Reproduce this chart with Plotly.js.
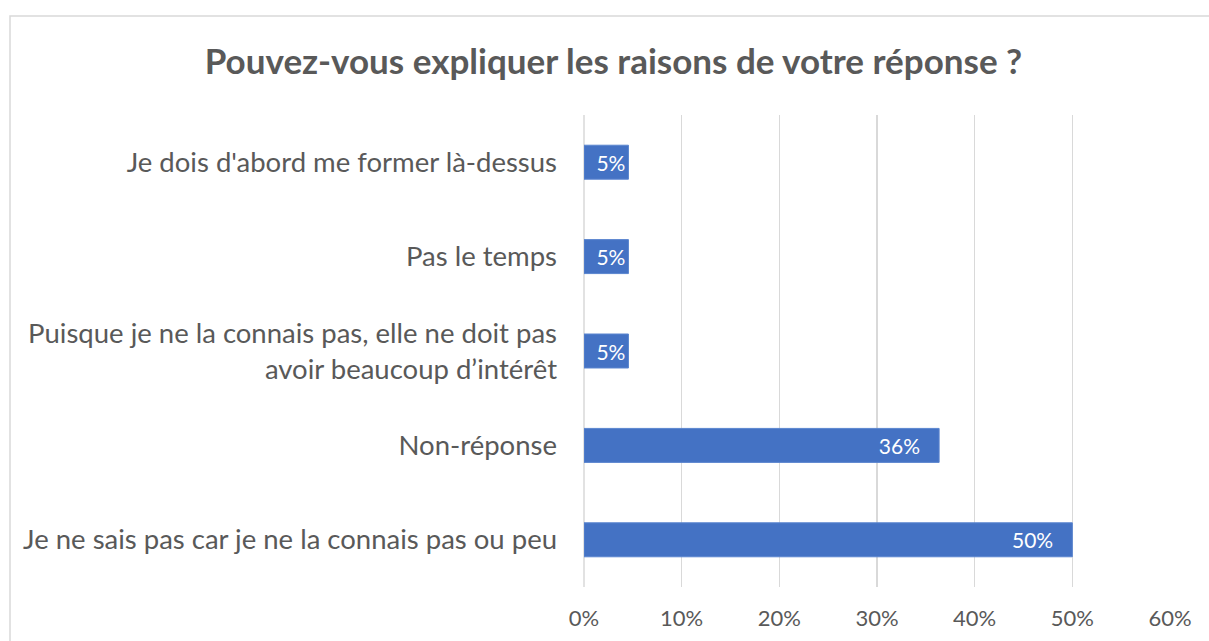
<!DOCTYPE html>
<html>
<head>
<meta charset="utf-8">
<script src="https://cdn.plot.ly/plotly-3.0.1.min.js"></script>
<style>html,body{margin:0;padding:0;background:#fff;}#chart{width:1209px;height:641px;}</style>
</head>
<body>
<div id="chart"></div>
<script>
const categories = [
  "Je ne sais pas car je ne la connais pas ou peu",
  "Non-réponse",
  "Puisque je ne la connais pas, elle ne doit pas<br>avoir beaucoup d’intérêt",
  "Pas le temps",
  "Je dois d'abord me former là-dessus"
];
const values = [0.5, 0.3636, 0.0455, 0.0455, 0.0455];
const xTicks = [0, 0.1, 0.2, 0.3, 0.4, 0.5, 0.6];
const xTickLabels = ["0%", "10%", "20%", "30%", "40%", "50%", "60%"];

const FONT = "Lato, 'Liberation Sans', sans-serif";
const plotL = 584, plotR = 1170, plotT = 115, plotB = 587;
const pw = plotR - plotL, ph = plotB - plotT;

const trace = {
  type: 'bar',
  orientation: 'h',
  y: categories,
  x: values,
  width: 0.36,
  marker: {color: '#4472C4', line: {color: '#5a85cf', width: 1}},
  text: values.map(v => Math.round(v * 100) + '%' + (v > 0.1 ? '\u00a0\u00a0\u00a0' : '')),
  textposition: 'inside',
  insidetextanchor: 'end',
  constraintext: 'none',
  textfont: {family: FONT, size: 21, color: '#ffffff'},
  hoverinfo: 'none'
};

const layout = {
  width: 1209, height: 641,
  margin: {l: plotL, r: 1209 - plotR, t: plotT, b: 641 - plotB, pad: 0},
  paper_bgcolor: '#ffffff', plot_bgcolor: '#ffffff',
  showlegend: false,
  title: {
    text: '<b>Pouvez-vous expliquer les raisons de votre réponse ?</b>',
    font: {family: FONT, size: 35, color: '#595959'},
    xref: 'container', x: 613.5 / 1209, xanchor: 'center',
    yref: 'container', y: 1 - 62 / 641, yanchor: 'middle'
  },
  xaxis: {
    range: [0, 0.6],
    tickvals: xTicks, ticktext: xTickLabels,
    showgrid: true, gridcolor: '#d9d9d9', gridwidth: 1.5,
    zeroline: false, showline: false, ticks: '',
    ticklabelstandoff: 16,
    tickfont: {family: FONT, size: 22, color: '#595959'},
    fixedrange: true
  },
  yaxis: {
    type: 'category',
    showgrid: false, zeroline: false, showline: false, ticks: '',
    ticklabelstandoff: 26,
    tickfont: {family: FONT, size: 27.5, color: '#595959'},
    fixedrange: true
  },
  shapes: [
    {type: 'line', xref: 'paper', yref: 'paper', layer: 'below',
     x0: 0, x1: 0, y0: 0, y1: 1,
     line: {color: '#d9d9d9', width: 1.5}},
    {type: 'rect', xref: 'paper', yref: 'paper', layer: 'below',
     x0: (10 - plotL) / pw, x1: (1230 - plotL) / pw,
     y0: (plotB - 660) / ph, y1: (plotB - 16) / ph,
     line: {color: '#d9d9d9', width: 1.5}, fillcolor: 'rgba(0,0,0,0)'}
  ]
};

Plotly.newPlot('chart', [trace], layout, {displayModeBar: false, staticPlot: true});
</script>
</body>
</html>
